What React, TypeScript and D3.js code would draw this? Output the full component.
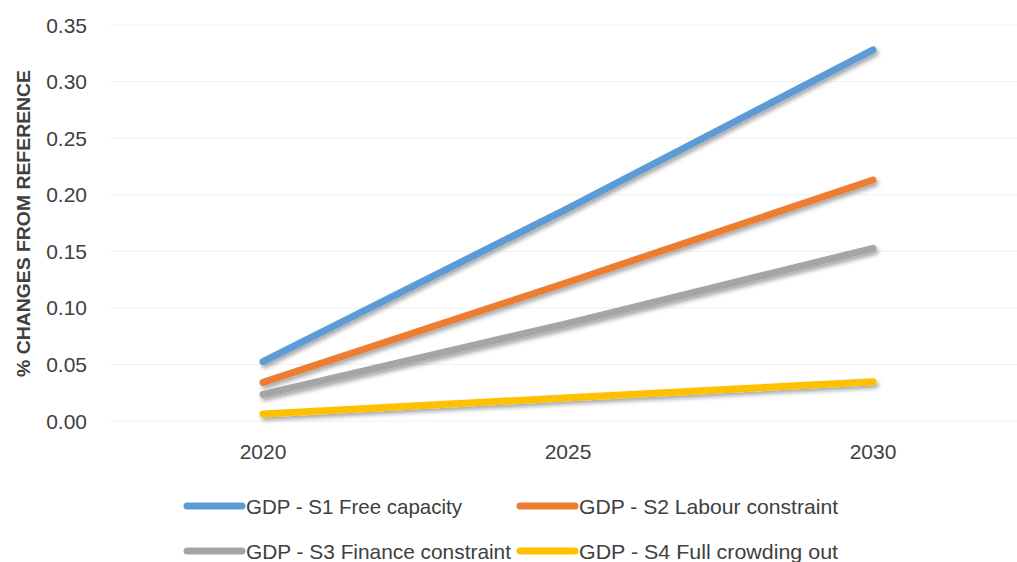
import React from "react";
import * as d3 from "d3";

const years = ["2020", "2025", "2030"];
const s1FreeCapacity = [0.0524, 0.188, 0.328];
const s2LabourConstraint = [0.0342, 0.1226, 0.213];
const s3FinanceConstraint = [0.0235, 0.0863, 0.1526];
const s4FullCrowdingOut = [0.0062, 0.0205, 0.0347];
const seriesNames = [
  "GDP - S1 Free capacity",
  "GDP - S2 Labour constraint",
  "GDP - S3 Finance constraint",
  "GDP - S4 Full crowding out",
];
const yTicks = [0, 0.05, 0.1, 0.15, 0.2, 0.25, 0.3, 0.35];
const yTitle = "% CHANGES FROM REFERENCE";

const colors = ["#5B9BD5", "#ED7D31", "#A5A5A5", "#FFC000"];
const allSeries = [s1FreeCapacity, s2LabourConstraint, s3FinanceConstraint, s4FullCrowdingOut];

// legend layout: [x line start, row y, text length]
const legendPos = [
  { x: 187, y: 506, tl: 216 },
  { x: 520, y: 506, tl: 259 },
  { x: 187, y: 551, tl: 265 },
  { x: 520, y: 551, tl: 259 },
];

export default function App() {
  const W = 1017;
  const H = 562;
  const x = d3.scaleBand<string>().domain(years).range([110.5, 1025.5]).padding(0);
  const y = d3.scaleLinear().domain([0, 0.35]).range([421, 25]);
  const cx = (d: string) => (x(d) as number) + x.bandwidth() / 2;
  const line = d3
    .line<number>()
    .x((_, i) => cx(years[i]))
    .y((v) => y(v));
  const font = "'Liberation Sans', Arial, sans-serif";
  const textColor = "#404040";

  return (
    <svg
      width={W}
      height={H}
      style={{ position: "absolute", left: 0, top: 0, background: "#fff" }}
      fontFamily={font}
    >
      <defs>
        <filter id="shadow" x="-10%" y="-50%" width="120%" height="200%">
          <feDropShadow dx="2" dy="3" stdDeviation="2" floodColor="#000" floodOpacity="0.35" />
        </filter>
      </defs>
      <rect x={0} y={0} width={W} height={H} fill="#fff" />
      {yTicks.map((t) => (
        <line key={t} x1={110} x2={W} y1={y(t)} y2={y(t)} stroke="#f0f0f0" strokeWidth={1} />
      ))}
      {yTicks.map((t) => (
        <text
          key={"l" + t}
          x={87}
          y={y(t)}
          dy="0.36em"
          textAnchor="end"
          fontSize={21}
          fill={textColor}
        >
          {d3.format(".2f")(t)}
        </text>
      ))}
      {years.map((yr) => (
        <text key={yr} x={cx(yr)} y={459} textAnchor="middle" fontSize={21} fill={textColor}>
          {yr}
        </text>
      ))}
      <text
        transform={`translate(30, 223.5) rotate(-90)`}
        textAnchor="middle"
        fontSize={19}
        fontWeight="bold"
        fill={textColor}
        textLength={307}
        lengthAdjust="spacingAndGlyphs"
      >
        {yTitle}
      </text>
      {allSeries.map((s, i) => (
        <path
          key={i}
          d={line(s) as string}
          fill="none"
          stroke={colors[i]}
          strokeWidth={7}
          strokeLinecap="round"
          strokeLinejoin="round"
          filter="url(#shadow)"
        />
      ))}
      {seriesNames.map((n, i) => {
        const p = legendPos[i];
        return (
          <g key={n}>
            <line
              x1={p.x}
              x2={p.x + 55}
              y1={p.y}
              y2={p.y}
              stroke={colors[i]}
              strokeWidth={7}
              strokeLinecap="round"
            />
            <text
              x={p.x + 59}
              y={p.y + 7.5}
              fontSize={21}
              fill={textColor}
              textLength={p.tl}
              lengthAdjust="spacingAndGlyphs"
            >
              {n}
            </text>
          </g>
        );
      })}
    </svg>
  );
}
